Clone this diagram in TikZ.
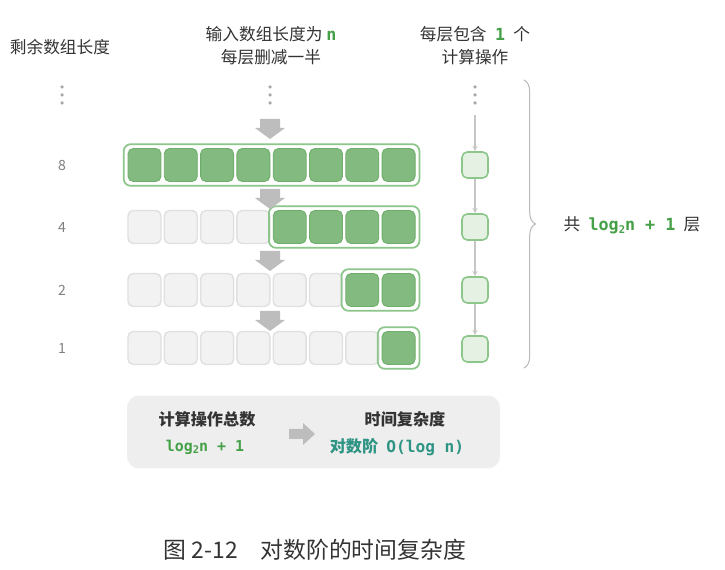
\documentclass[tikz,border=0pt]{standalone}
\usepackage{fontspec}
\setmainfont{Noto Sans CJK SC}
\newfontfamily\codefont{DejaVu Sans Mono}
\usetikzlibrary{arrows.meta, positioning, fit, calc, decorations.pathreplacing}

\definecolor{CellGreen}{HTML}{82BA7F}
\definecolor{CellEdge}{HTML}{6EAE6A}
\definecolor{FrameGreen}{HTML}{8CC68A}
\definecolor{PaleGreen}{HTML}{E4F1E3}
\definecolor{CellGray}{HTML}{F2F2F2}
\definecolor{EdgeGray}{HTML}{E0E0E0}
\definecolor{ArrowGray}{HTML}{BDBDBD}
\definecolor{TextGreen}{HTML}{45A047}
\definecolor{TextTeal}{HTML}{2E9483}
\definecolor{TextDark}{HTML}{333333}
\definecolor{BoxGray}{HTML}{EEEEEE}

\newcommand{\lowtwo}{\raisebox{-0.35ex}{\fontsize{6}{6}\selectfont 2}}
\newcommand{\green}[1]{{\codefont\bfseries\color{TextGreen}#1}}

\begin{document}
\begin{tikzpicture}[x=0.02cm, y=-0.02cm,
  cell/.style={draw=CellEdge, fill=CellGreen, rounded corners=3pt, minimum size=0.66cm, inner sep=0pt, line width=0.5pt},
  idle/.style={draw=EdgeGray, fill=CellGray, rounded corners=3pt, minimum size=0.66cm, inner sep=0pt, line width=0.8pt},
  frame/.style={draw=FrameGreen, rounded corners=4pt, inner sep=2.2pt, line width=1pt},
  op/.style={draw=FrameGreen, fill=PaleGreen, rounded corners=3pt, minimum size=0.52cm, inner sep=0pt, line width=0.9pt},
  head/.style={font=\fontsize{9.5}{13}\selectfont, text=TextDark, align=center},
  lvl/.style={font=\fontsize{8}{10}\selectfont, text=gray},
  arr/.style={-{Stealth[length=3pt, width=3pt]}, gray!45, line width=0.6pt},
  blk/.style={fill=ArrowGray},
]
\useasboundingbox[fill=white] (0,0) rectangle (725,570);

% headers
\node[head] (hlen) at (60,47) {剩余数组长度};
\node[head] (hin) at (271,46) {输入数组长度为 \green{n}\\每层删减一半};
\node[head] (hop) at (475,46) {每层包含\enspace\green{1}\enspace 个\\计算操作};

% dots
\foreach \x in {62,270,475}
  \foreach \y in {87,95,103}
    \fill[gray!70] (\x,\y) circle (1pt);

% arrays
\foreach \i in {1,...,8}
  \node[cell] (a\i) at ({144.5+36.3*(\i-1)},165) {};
\foreach \i in {1,...,4}
  \node[idle] (b\i) at ({144.5+36.3*(\i-1)},227) {};
\foreach \i in {5,...,8}
  \node[cell] (b\i) at ({144.5+36.3*(\i-1)},227) {};
\foreach \i in {1,...,6}
  \node[idle] (c\i) at ({144.5+36.3*(\i-1)},290) {};
\foreach \i in {7,8}
  \node[cell] (c\i) at ({144.5+36.3*(\i-1)},290) {};
\foreach \i in {1,...,7}
  \node[idle] (d\i) at ({144.5+36.3*(\i-1)},348) {};
\node[cell] (d8) at ({144.5+36.3*7},348) {};

\node[frame, fit=(a1)(a8)] (fa) {};
\node[frame, fit=(b5)(b8)] (fb) {};
\node[frame, fit=(c7)(c8)] (fc) {};
\node[frame, fit=(d8)] (fd) {};

% lengths
\node[lvl] (l8) at (62,165) {8};
\node[lvl] (l4) at (62,227) {4};
\node[lvl] (l2) at (62,290) {2};
\node[lvl] (l1) at (62,348) {1};

% halving arrows
\foreach \y in {119,189,251,311}
  \fill[blk] (260,\y) -- ++(20,0) -- ++(0,9) -- ++(5,0) -- ++(-15,11) -- ++(-15,-11) -- ++(5,0) -- cycle;

% one operation per level
\node[op] (o8) at (475,165) {};
\node[op] (o4) at (475,227) {};
\node[op] (o2) at (475,290) {};
\node[op] (o1) at (475,349) {};
\coordinate (otop) at (475,115);
\draw[arr] (otop) -- (o8);
\draw[arr] (o8) -- (o4);
\draw[arr] (o4) -- (o2);
\draw[arr] (o2) -- (o1);

% brace
\coordinate (bt) at (524,80);
\coordinate (bb) at (524,368);
\draw[gray!55, line width=0.6pt, decorate, decoration={brace, amplitude=6.5pt}] (bt) -- (bb);
\node[head] (total) at (632,225) {共\enspace\green{log\lowtwo n + 1}\enspace 层};

% summary
\node[fill=BoxGray, rounded corners=7pt, minimum width=7.46cm, minimum height=1.46cm] (sum) at (313.5,432) {};
\node[head, font=\fontsize{9.2}{12}\selectfont\bfseries] (ops) at (207,419) {计算操作总数};
\node[font=\fontsize{8.5}{10}\selectfont] (opsv) at (205,447) {\green{log\lowtwo n + 1}};
\node[head, font=\fontsize{9.2}{12}\selectfont\bfseries] (tc) at (405,419) {时间复杂度};
\node[font=\fontsize{9.2}{12}\selectfont\bfseries, text=TextTeal] (tcv) at (397,447) {对数阶\enspace{\codefont O(log n)}};
\fill[blk] (289,429) -- ++(14,0) -- ++(0,-6) -- ++(12,11) -- ++(-12,11) -- ++(0,-6) -- ++(-14,0) -- cycle;

% caption
\node[font=\fontsize{13}{15}\selectfont, text=TextDark] (cap) at (315,550) {图 2-12\quad 对数阶的时间复杂度};
\end{tikzpicture}
\end{document}
